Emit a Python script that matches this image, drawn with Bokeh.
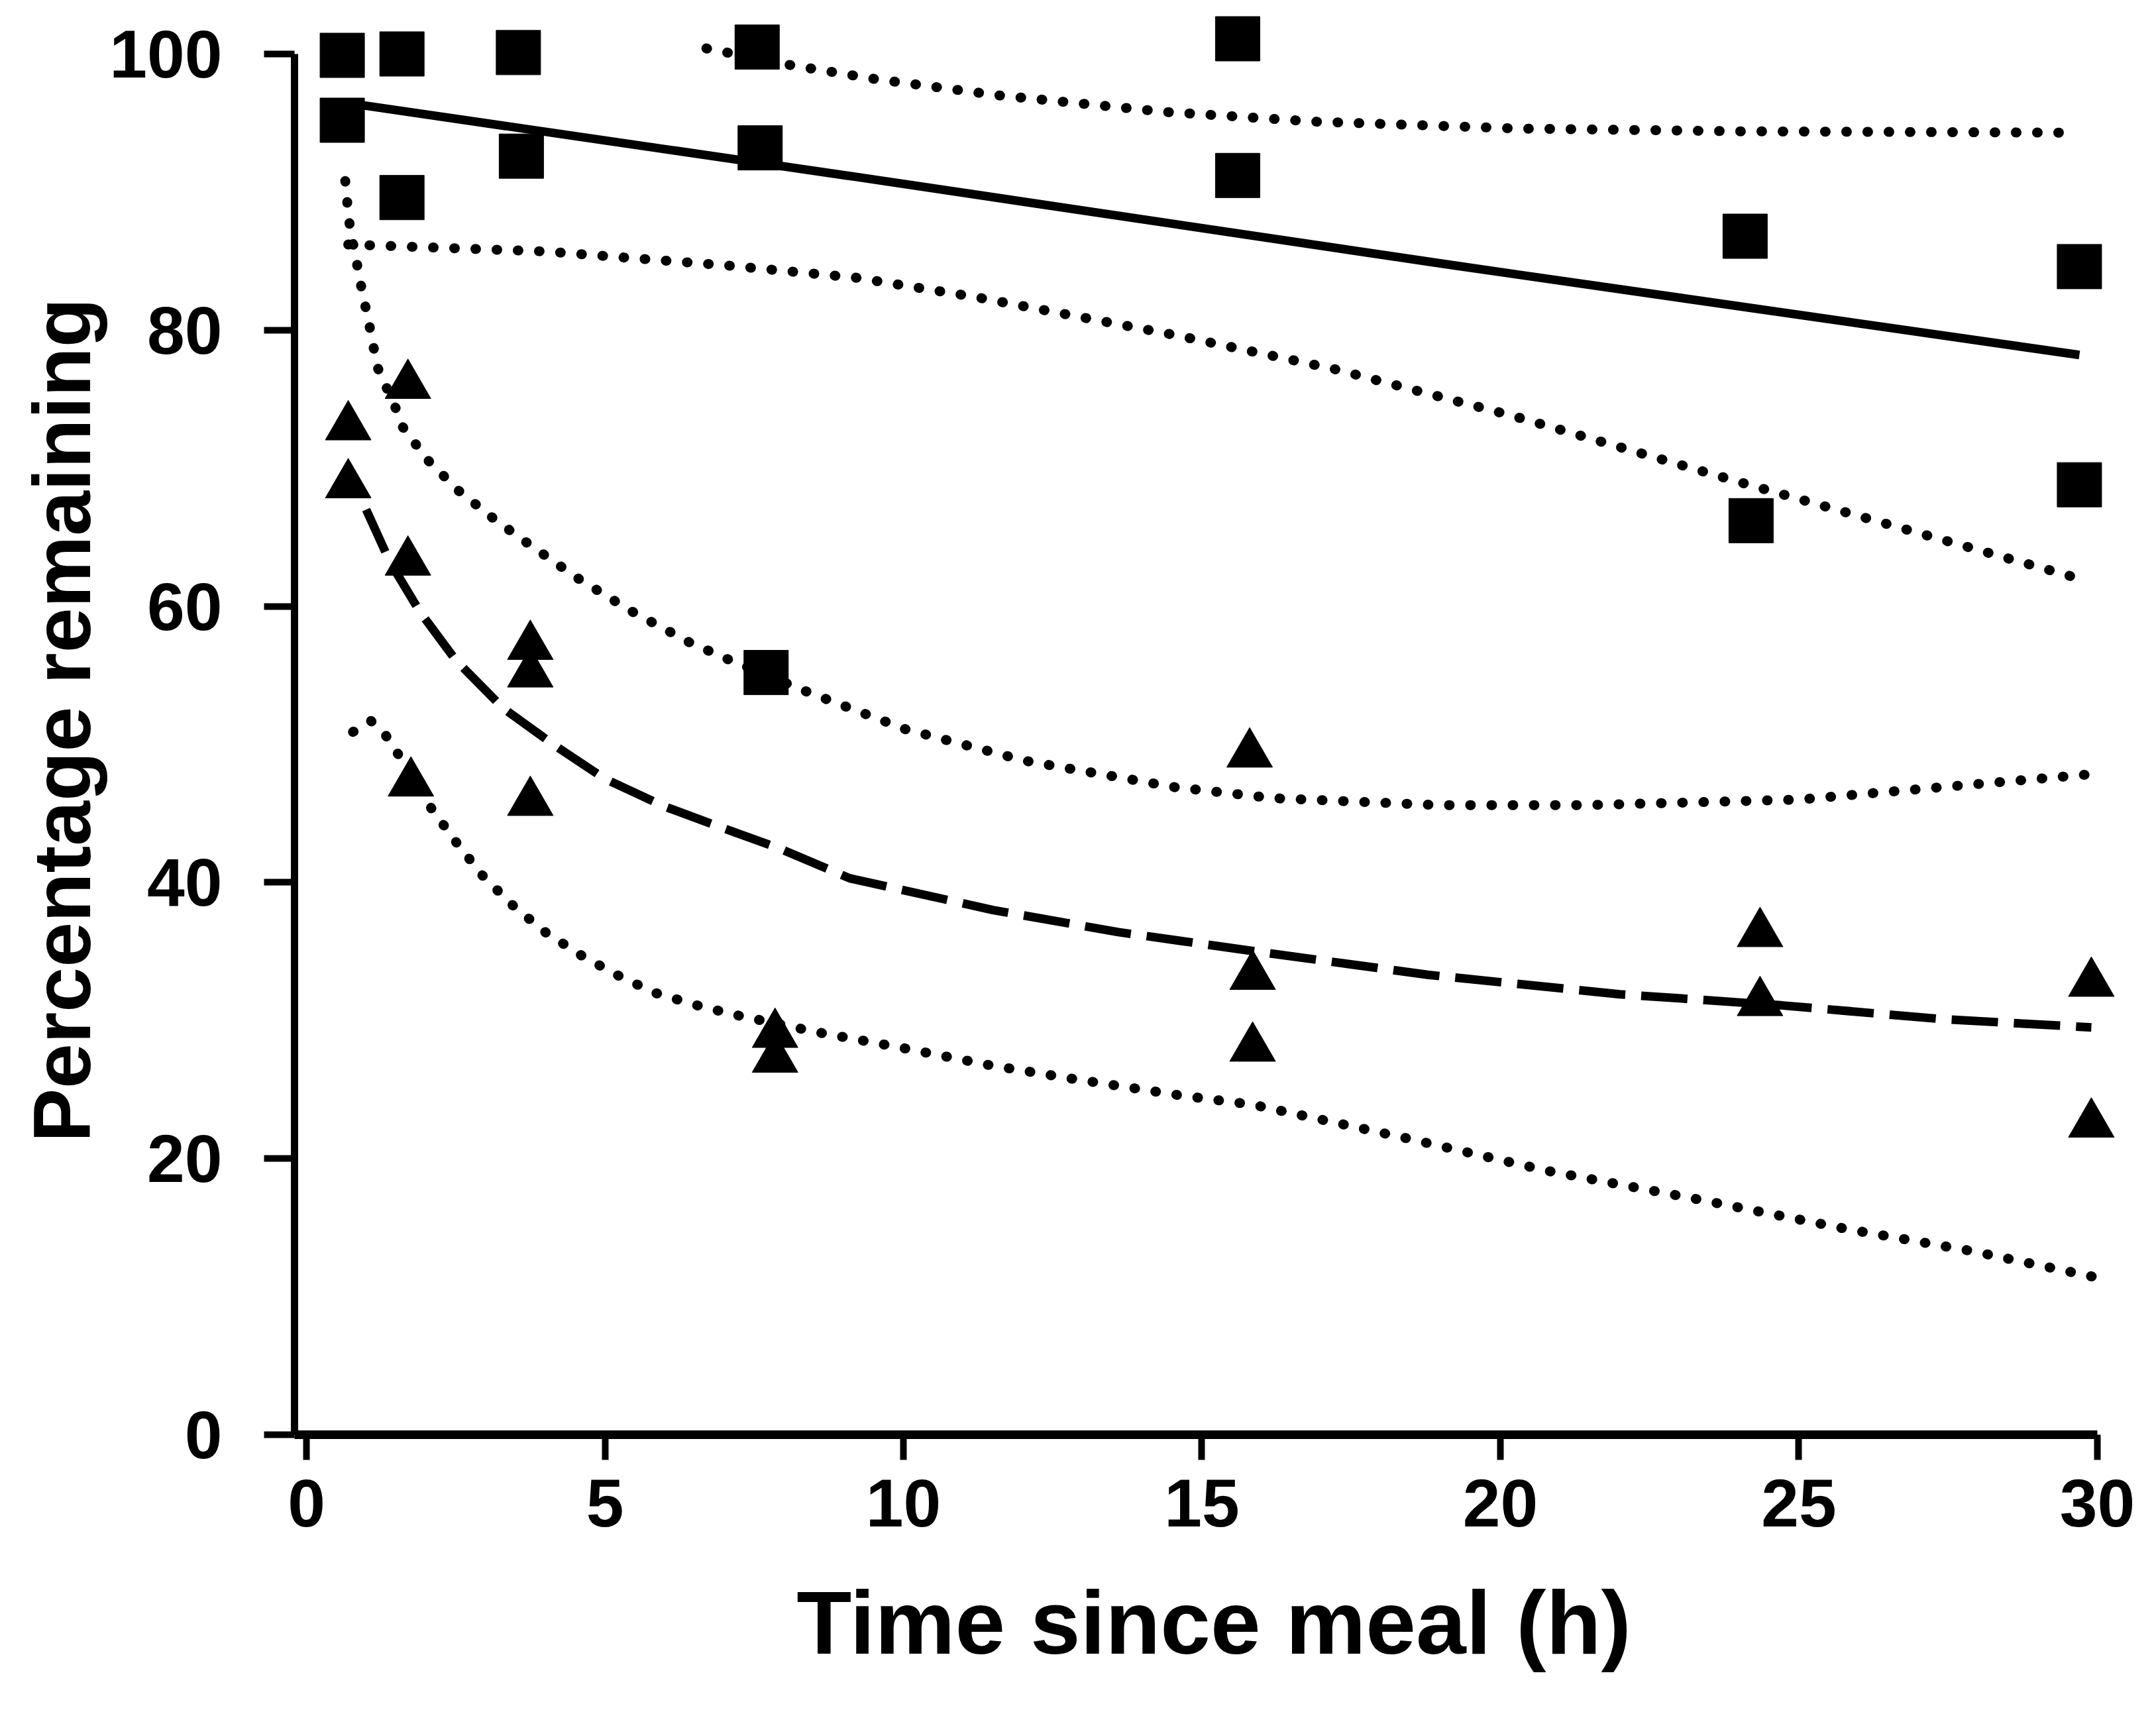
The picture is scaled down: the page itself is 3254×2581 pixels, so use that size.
from bokeh.plotting import figure
from bokeh.models import Range1d, FixedTicker
from bokeh.embed import file_html
from bokeh.resources import INLINE

# ---- data ----
x_ticks = [0, 5, 10, 15, 20, 25, 30]
y_ticks = [0, 20, 40, 60, 80, 100]

# squares
sq_x = [0.6, 1.6, 3.55, 7.55, 15.6, 0.6, 1.6, 3.6, 7.6, 15.6, 24.1, 29.7, 24.2, 29.7, 7.7]
sq_y = [99.9, 100.0, 100.1, 100.5, 101.1, 95.2, 89.6, 92.6, 93.2, 91.2, 86.8, 84.6, 66.2, 68.8, 55.2]

# triangles
tri_x = [0.7, 0.7, 1.7, 1.7, 1.75, 3.75, 3.75, 3.75, 7.85, 7.85, 15.8, 15.85, 15.85,
         24.35, 24.35, 29.9, 29.9]
tri_y = [73.0, 68.8, 76.0, 63.2, 47.2, 57.1, 55.1, 45.8, 29.0, 27.2, 49.3, 33.2, 28.0,
         36.3, 31.3, 32.7, 22.5]

# squares: fitted line (solid) and its dotted limits
sq_mean_x = [0.6, 9.2, 19.2, 29.7]
sq_mean_y = [96.5, 91.1, 84.7, 78.2]
sq_hi_x = [6.7, 8.1, 9.5, 11.6, 14.4, 16.9, 20.3, 24.0, 29.6]
sq_hi_y = [100.4, 99.2, 98.2, 97.0, 95.8, 95.1, 94.6, 94.4, 94.3]
sq_lo_x = [0.7, 4.0, 7.0, 9.2, 11.2, 14.6, 17.2, 20.2, 24.0, 29.7]
sq_lo_y = [86.2, 85.7, 84.7, 83.8, 82.4, 79.6, 77.2, 73.8, 69.0, 62.0]

# triangles: fitted curve (dashed) and its dotted limits
tri_mean_x = [1.0, 1.4, 1.9, 2.5, 3.3, 4.2, 5.0, 6.0, 7.0, 7.9, 9.1, 11.5, 13.6, 15.9,
              18.8, 22.0, 24.7, 27.4, 29.9]
tri_mean_y = [67.0, 63.2, 59.6, 56.1, 52.6, 49.8, 47.5, 45.5, 43.9, 42.5, 40.3, 38.0,
              36.4, 35.0, 33.3, 31.9, 31.1, 30.1, 29.5]
tri_hi_x = [0.65, 0.71, 0.78, 0.92, 1.06, 1.19, 1.49, 1.61, 2.03, 2.54, 3.12, 3.66, 4.52,
            5.42, 6.41, 7.04, 8.39, 10.03, 12.05, 14.54, 16.2, 18.97, 21.44, 25.0, 29.8]
tri_hi_y = [90.8, 88.0, 86.3, 83.1, 80.2, 77.3, 74.4, 73.0, 70.6, 68.4, 66.4, 64.7, 62.1,
            59.7, 57.4, 56.2, 53.8, 51.1, 48.8, 46.9, 46.1, 45.6, 45.6, 46.0, 47.8]
tri_lo_x = [0.78, 1.08, 1.32, 1.52, 2.07, 2.51, 2.95, 3.44, 4.0, 4.61, 5.2, 5.84, 6.54,
            7.19, 8.62, 10.0, 11.4, 12.8, 14.6, 15.86, 18.4, 20.8, 23.25, 25.8, 27.9, 29.98]
tri_lo_y = [50.9, 51.7, 50.7, 49.4, 45.5, 42.9, 40.5, 38.4, 36.4, 34.7, 33.3, 32.0, 31.1,
            30.4, 29.1, 28.0, 26.8, 25.8, 24.6, 23.9, 21.5, 19.1, 17.1, 14.9, 13.3, 11.4]

x_label = "Time since meal (h)"
y_label = "Percentage remaining"

# ---- figure ----
# note: font sizes such as "100px" break the SVG font parser together with "bold"
FONT = "Liberation Sans"
p = figure(width=3238, height=2565,
           x_range=Range1d(-0.2, 30.6), y_range=Range1d(0, 103.5),
           output_backend="svg", toolbar_location=None,
           min_border_left=444, min_border_right=19,
           min_border_top=8, min_border_bottom=400)
p.grid.visible = False
p.outline_line_color = None

p.axis.axis_line_color = "black"
p.axis.major_tick_line_color = "black"
p.axis.major_tick_line_width = 10
p.axis.major_tick_in = 0
p.axis.minor_tick_out = 0
p.axis.minor_tick_in = 0
p.axis.major_label_text_font = FONT
p.axis.major_label_text_font_style = "bold"
p.axis.major_label_text_font_size = "102px"
p.axis.major_label_text_color = "black"
p.axis.axis_label_text_font = FONT
p.axis.axis_label_text_font_style = "bold"
p.axis.axis_label_text_color = "black"

p.xaxis.ticker = FixedTicker(ticks=x_ticks)
p.xaxis.bounds = (-0.2, 30)
p.xaxis.axis_line_width = 13
p.xaxis.major_tick_out = 38
p.xaxis.major_label_standoff = 29
p.xaxis.axis_label = x_label
p.xaxis.axis_label_text_font_size = "136px"
p.xaxis.axis_label_standoff = 66

p.yaxis.ticker = FixedTicker(ticks=y_ticks)
p.yaxis.bounds = (0, 100)
p.yaxis.axis_line_width = 11
p.yaxis.major_tick_out = 46
p.yaxis.major_label_standoff = 63
p.yaxis.axis_label = y_label
p.yaxis.axis_label_text_font_size = "122px"
p.yaxis.axis_label_standoff = 0

# lines
p.line(sq_mean_x, sq_mean_y, line_color="black", line_width=13)
for xs, ys in ((sq_hi_x, sq_hi_y), (sq_lo_x, sq_lo_y), (tri_hi_x, tri_hi_y), (tri_lo_x, tri_lo_y)):
    p.line(xs, ys, line_color="black", line_width=15, line_dash="1 31", line_cap="round")
p.line(tri_mean_x, tri_mean_y, line_color="black", line_width=13, line_dash="70 24")

# markers
p.scatter(x=sq_x, y=sq_y, marker="square", size=67, fill_color="black", line_color="black")
p.scatter(x=tri_x, y=tri_y, marker="triangle", size=69, fill_color="black", line_color="black")

open("out.html", "w").write(file_html(p, INLINE))
